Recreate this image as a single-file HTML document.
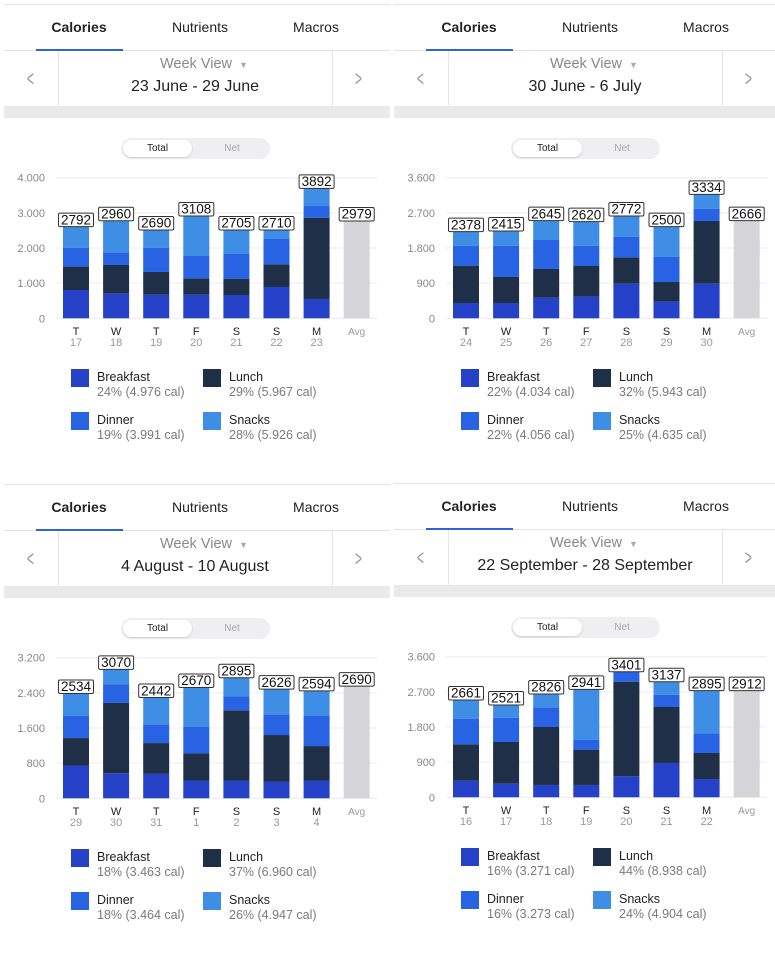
<!DOCTYPE html>
<html><head><meta charset="utf-8">
<style>
html,body{margin:0;padding:0;background:#fff;}
body{width:775px;height:934px;position:relative;overflow:hidden;font-family:"Liberation Sans",sans-serif;}
.panel{position:absolute;width:390px;height:480px;}
.abs{position:absolute;}
.tab{position:absolute;top:19px;font-size:14px;color:#222;transform:translateX(-50%);white-space:nowrap;}
.legname{font-size:12.5px;color:#222;}
.legsub{font-size:12.5px;color:#7a7a7a;}
</style></head><body>
<script>
// ---- data ----
const days1=["T","W","T","F","S","S","M"];
const dates1=["17","18","19","20","21","22","23"];
const dates2=["24","25","26","27","28","29","30"];
const dates3=["29","30","31","1","2","3","4"];
const dates4=["16","17","18","19","20","21","22"];
const ticks1=[0,1000,2000,3000,4000];
const ticks2=[0,900,1800,2700,3600];
const ticks3=[0,800,1600,2400,3200];
const ticks4=[0,900,1800,2700,3600];
const tickLabels1=["0","1.000","2.000","3.000","4.000"];
const tickLabels2=["0","900","1.800","2.700","3.600"];
const tickLabels3=["0","800","1.600","2.400","3.200"];
const tickLabels4=["0","900","1.800","2.700","3.600"];
const breakfast1=[805,710,673,673,663,891,550];
const lunch1=[665,807,645,464,465,644,2312];
const dinner1=[540,360,692,635,701,721,332];
const snacks1=[597,900,502,1138,683,256,503];
const avg1=2768;
const totals1=[2792,2960,2690,3108,2705,2710,3892];
const avgLabel1=2979;
const breakfast2=[392,392,529,555,887,427,887];
const lunch2=[956,666,734,784,674,503,1604];
const dinner2=[512,802,742,521,529,640,316];
const snacks2=[358,375,495,614,529,776,366];
const avg2=2500;
const totals2=[2378,2415,2645,2620,2772,2500,3334];
const avgLabel2=2666;
const breakfast3=[747,571,556,404,404,381,404];
const lunch3=[624,1600,701,617,1600,1059,785];
const dinner3=[503,427,427,602,320,472,701];
const snacks3=[511,335,609,899,419,572,556];
const avg3=2552;
const totals3=[2534,3070,2442,2670,2895,2626,2594];
const avgLabel3=2690;
const breakfast4=[427,350,316,316,537,879,469];
const lunch4=[929,1066,1484,904,2423,1433,666];
const dinner4=[657,623,503,256,256,315,503];
const snacks4=[478,324,342,1288,0,333,1092];
const avg4=2730;
const totals4=[2661,2521,2826,2941,3401,3137,2895];
const avgLabel4=2912;
const legend1=["24% (4.976 cal)","29% (5.967 cal)","19% (3.991 cal)","28% (5.926 cal)"];
const legend2=["22% (4.034 cal)","32% (5.943 cal)","22% (4.056 cal)","25% (4.635 cal)"];
const legend3=["18% (3.463 cal)","37% (6.960 cal)","18% (3.464 cal)","26% (4.947 cal)"];
const legend4=["16% (3.271 cal)","44% (8.938 cal)","16% (3.273 cal)","24% (4.904 cal)"];
const ranges=["23 June - 29 June","30 June - 6 July","4 August - 10 August","22 September - 28 September"];
const colors=["#2541c8","#1f2f48","#2763e2","#3e8ee6"];
const NS="http://www.w3.org/2000/svg";

function mk(tag,attrs,parent,text){const e=document.createElementNS(NS,tag);for(const k in attrs)e.setAttribute(k,attrs[k]);if(text!==undefined)e.textContent=text;parent.appendChild(e);return e;}

function buildPanel(ox,oy,range,dates,ticks,tickLabels,series,avg,totals,avgLabel,legend){
  const p=document.createElement('div');p.className='panel';p.style.left=ox+'px';p.style.top=oy+'px';
  
  
  document.body.appendChild(p);
  p.innerHTML=`
  <div class="abs" style="left:4px;top:4px;width:386px;height:1px;background:#e4e4e4"></div>
  <div class="tab" style="left:79px;font-weight:bold">Calories</div>
  <div class="tab" style="left:200px">Nutrients</div>
  <div class="tab" style="left:316px">Macros</div>
  <div class="abs" style="left:4px;top:50px;width:386px;height:1px;background:#e2e2e2"></div>
  <div class="abs" style="left:36px;top:49px;width:87px;height:2px;background:#2f63d8"></div>
  <div class="abs" style="left:58px;top:51px;width:1px;height:55px;background:#e6e6e6"></div>
  <div class="abs" style="left:332px;top:51px;width:1px;height:55px;background:#e6e6e6"></div>
  <div class="abs" style="left:24px;top:66px;font-size:22px;color:#999;transform:scaleX(0.55)">&lt;</div>
  <div class="abs" style="left:352px;top:66px;font-size:22px;color:#999;transform:scaleX(0.55)">&gt;</div>
  <div class="abs" style="left:160px;top:56px;font-size:14.5px;color:#888;white-space:nowrap">Week View <span style="font-size:9px;color:#aaa;margin-left:3px">&#9660;</span></div>
  <div class="abs" style="left:58px;width:274px;top:78px;font-size:16px;color:#222;text-align:center;white-space:nowrap">${range}</div>
  <div class="abs" style="left:4px;top:106px;width:386px;height:12px;background:#e9e9ee"></div>
  <div class="abs" style="left:121px;top:138px;width:149px;height:21px;border-radius:11px;background:#efeff1"></div>
  <div class="abs" style="left:123px;top:140px;width:69px;height:17px;border-radius:9px;background:#fff;box-shadow:0 1px 2px rgba(0,0,0,0.15);font-size:10px;color:#222;text-align:center;line-height:17px">Total</div>
  <div class="abs" style="left:196px;top:140px;width:72px;height:17px;font-size:10px;color:#aaa;text-align:center;line-height:17px">Net</div>`;
  const svg=document.createElementNS(NS,'svg');
  svg.setAttribute('width','390');svg.setAttribute('height','360');
  svg.style.position='absolute';svg.style.left='0';svg.style.top='0';
  
  
  p.appendChild(svg);
  const y0=318.3,yTop=177.7,maxT=ticks[ticks.length-1];
  const y=v=>y0-(v/maxT)*(y0-yTop);
  const x=i=>76+i*40.1;
  ticks.forEach((t,i)=>{
    const g=mk('line',{x1:56,x2:377,y1:y(t),y2:y(t),stroke:'#ececec','stroke-width':1},svg);
    
    
    const tl=mk('text',{x:45,y:y(t)+4,'text-anchor':'end','font-size':'11','fill':'#888','font-family':'Liberation Sans'},svg,tickLabels[i]);
    
    
  });
  for(let i=0;i<7;i++){
    let base=0;
    series.forEach((s,k)=>{
      const v=s[i];
      const r=mk('rect',{x:x(i)-13,width:26,y:y(base+v),height:Math.max(0,y(base)-y(base+v)),fill:colors[k]},svg);
      
      
      base+=v;
    });
    drawLabel(svg,x(i),y(base),totals[i]);
    const d=mk('text',{x:x(i),y:335,'text-anchor':'middle','font-size':'11','fill':'#222','font-family':'Liberation Sans'},svg,days1[i]);
    
    
    const dt=mk('text',{x:x(i),y:346,'text-anchor':'middle','font-size':'11','fill':'#999','font-family':'Liberation Sans'},svg,dates[i]);
    
    
  }
  const ax=x(7);
  const ar=mk('rect',{x:ax-13,width:26,y:y(avg),height:y0-y(avg),fill:'#d5d5d9'},svg);
  
  
  drawLabel(svg,ax,y(avg),avgLabel);
  const at=mk('text',{x:ax,y:335,'text-anchor':'middle','font-size':'10','fill':'#999','font-family':'Liberation Sans'},svg,'Avg');
  
  
  const names=["Breakfast","Lunch","Dinner","Snacks"];
  names.forEach((n,k)=>{
    const lx=k%2?203:71, ly=k<2?369:412;
    const e=document.createElement('div');e.className='abs';e.style.left=lx+'px';e.style.top=ly+'px';
    
    
    e.innerHTML=`<div style="position:absolute;left:0;top:0;width:18px;height:18px;background:${colors[k]}"></div>
    <div class="legname" style="position:absolute;left:26px;top:1px;white-space:nowrap">${n}</div>
    <div class="legsub" style="position:absolute;left:26px;top:16px;white-space:nowrap">${legend[k]}</div>`;
    p.appendChild(e);
  });
}
function drawLabel(svg,cx,top,val){
  const w=String(val).length*8+3;
  const r=mk('rect',{x:cx-w/2,y:top-13.5,width:w,height:13.5,rx:1.5,fill:'#fff',stroke:'#333','stroke-width':1},svg);
  
  
  const t=mk('text',{x:cx,y:top-2.3,'text-anchor':'middle','font-size':'13.5','fill':'#111','font-family':'Liberation Sans'},svg,val);
  
  
}
buildPanel(0,0,ranges[0],dates1,ticks1,tickLabels1,[breakfast1,lunch1,dinner1,snacks1],avg1,totals1,avgLabel1,legend1);
buildPanel(390,0,ranges[1],dates2,ticks2,tickLabels2,[breakfast2,lunch2,dinner2,snacks2],avg2,totals2,avgLabel2,legend2);
buildPanel(0,480,ranges[2],dates3,ticks3,tickLabels3,[breakfast3,lunch3,dinner3,snacks3],avg3,totals3,avgLabel3,legend3);
buildPanel(390,479,ranges[3],dates4,ticks4,tickLabels4,[breakfast4,lunch4,dinner4,snacks4],avg4,totals4,avgLabel4,legend4);
</script>
</body></html>
